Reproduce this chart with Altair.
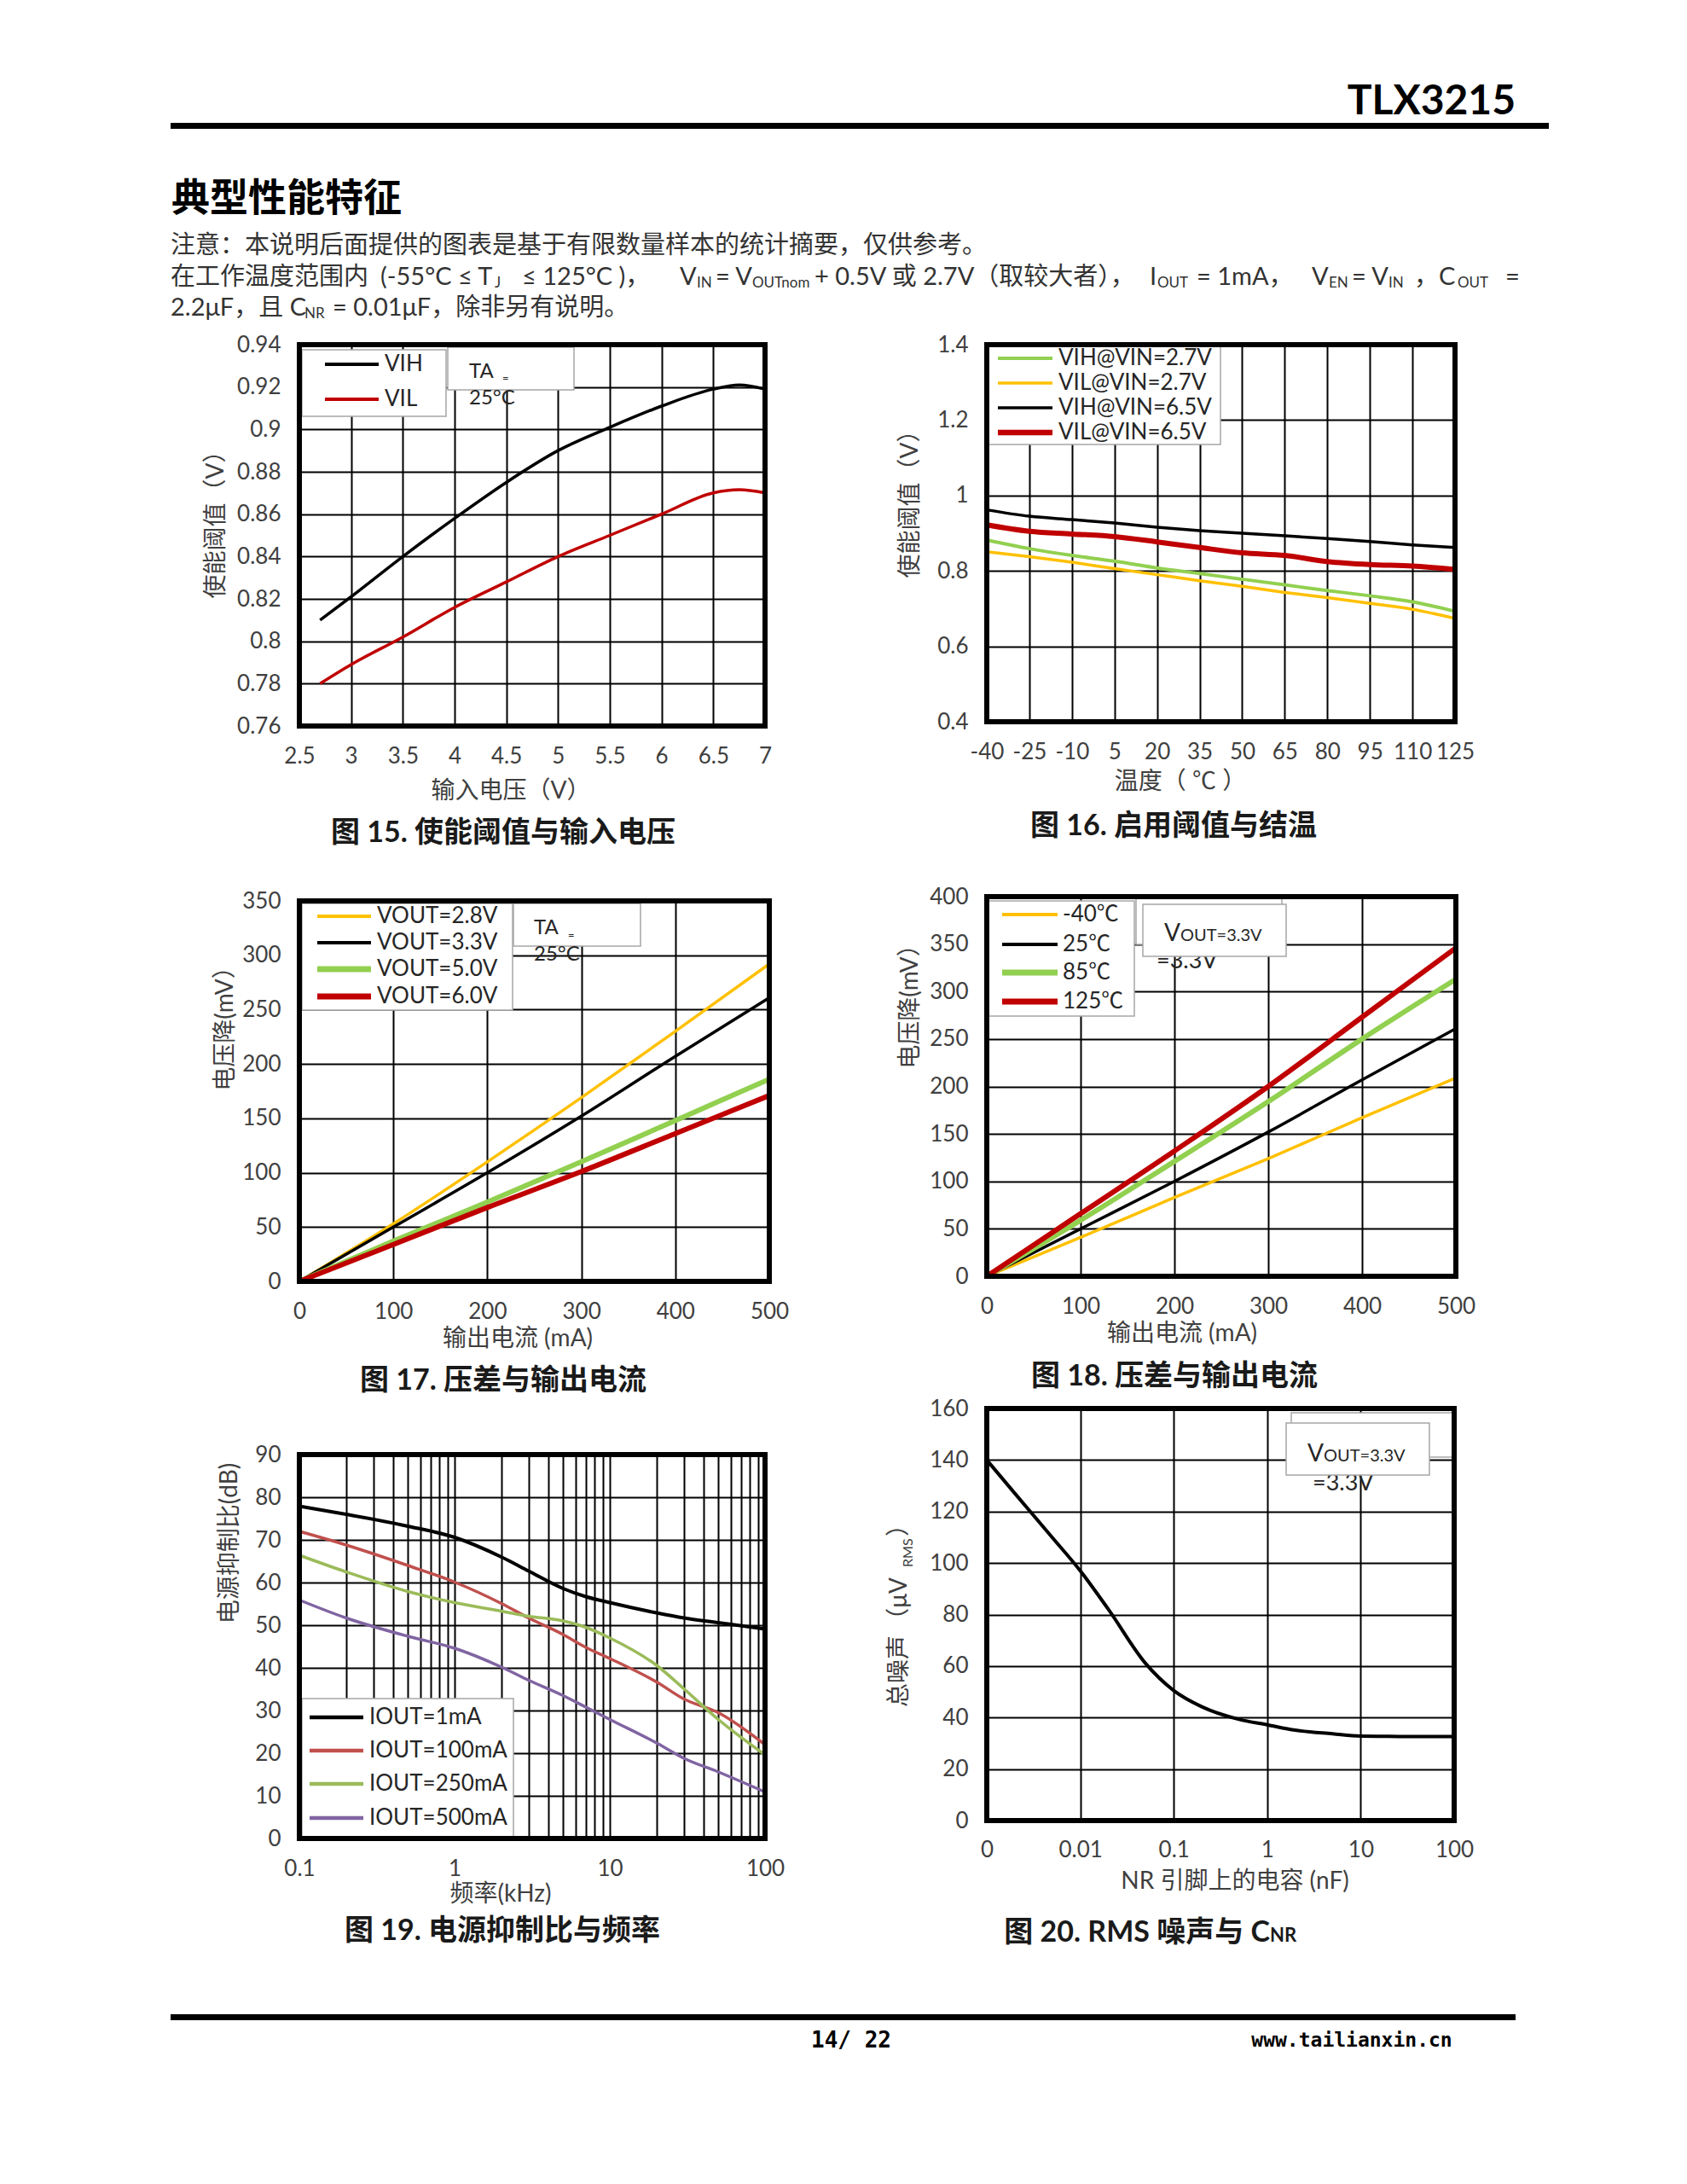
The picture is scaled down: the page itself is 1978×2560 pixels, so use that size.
import altair as alt
import pandas as pd

FONT = "Lato, 'Noto Sans CJK SC', sans-serif"
MONO = "'DejaVu Sans Mono', 'Liberation Mono', monospace"
LBL = "'' + datum.value"

# ================= DATA =================
# Fig 15
f15_vin = [2.7, 3.0, 3.5, 4.0, 4.5, 5.0, 5.5, 6.0, 6.5, 6.75, 7.0]
f15_vih = [0.810, 0.821, 0.840, 0.858, 0.875, 0.890, 0.901, 0.911, 0.919, 0.921, 0.919]
f15_vil = [0.780, 0.789, 0.802, 0.816, 0.828, 0.840, 0.850, 0.860, 0.870, 0.8715, 0.870]
f15_names = ["VIH", "VIL"]
f15_xticks = [2.5, 3, 3.5, 4, 4.5, 5, 5.5, 6, 6.5, 7]
f15_yticks = [0.76, 0.78, 0.8, 0.82, 0.84, 0.86, 0.88, 0.9, 0.92, 0.94]

# Fig 16
f16_temp = [-40, -25, -10, 5, 20, 35, 50, 65, 80, 95, 110, 125]
f16_vih27 = [0.882, 0.859, 0.841, 0.826, 0.808, 0.793, 0.778, 0.763, 0.748, 0.734, 0.718, 0.693]
f16_vil27 = [0.851, 0.838, 0.823, 0.806, 0.790, 0.774, 0.759, 0.743, 0.729, 0.714, 0.698, 0.674]
f16_vih65 = [0.962, 0.945, 0.936, 0.927, 0.916, 0.907, 0.900, 0.893, 0.886, 0.878, 0.869, 0.862]
f16_vil65 = [0.922, 0.905, 0.898, 0.891, 0.877, 0.862, 0.848, 0.841, 0.825, 0.817, 0.813, 0.804]
f16_names = ["VIH@VIN=2.7V", "VIL@VIN=2.7V", "VIH@VIN=6.5V", "VIL@VIN=6.5V"]
f16_xticks = [-40, -25, -10, 5, 20, 35, 50, 65, 80, 95, 110, 125]
f16_yticks = [0.4, 0.6, 0.8, 1, 1.2, 1.4]

# Fig 17
f17_iout = [0, 100, 200, 300, 400, 500]
f17_v28 = [0, 53, 110, 169, 230, 292]
f17_v33 = [0, 50, 100, 152, 207, 261]
f17_v50 = [0, 37, 73, 110, 148, 186]
f17_v60 = [0, 34, 68, 101, 136, 171]
f17_names = ["VOUT=2.8V", "VOUT=3.3V", "VOUT=5.0V", "VOUT=6.0V"]
f17_xticks = [0, 100, 200, 300, 400, 500]
f17_yticks = [0, 50, 100, 150, 200, 250, 300, 350]

# Fig 18
f18_iout = [0, 100, 200, 300, 400, 500]
f18_m40 = [0, 41, 83, 124, 167, 209]
f18_t25 = [0, 50, 100, 152, 207, 261]
f18_t85 = [0, 59, 121, 184, 250, 313]
f18_t125 = [0, 66, 132, 200, 273, 346]
f18_names = ["-40℃", "25℃", "85℃", "125℃"]
f18_yticks = [0, 50, 100, 150, 200, 250, 300, 350, 400]

# Fig 19
f19_freq = [0.1, 0.2, 0.5, 1, 2, 3, 5, 7, 10, 20, 30, 50, 100]
f19_1ma = [77.9, 76.0, 73.2, 70.6, 66.0, 62.7, 58.6, 56.7, 55.3, 52.9, 51.7, 50.6, 49.1]
f19_100ma = [72.0, 68.8, 64.0, 60.1, 55.1, 51.7, 47.8, 44.8, 42.2, 36.7, 32.7, 29.5, 22.0]
f19_250ma = [66.4, 62.5, 57.9, 55.3, 53.3, 52.1, 51.0, 49.5, 47.0, 40.6, 35.1, 27.9, 19.6]
f19_500ma = [55.9, 51.7, 47.4, 44.6, 40.2, 37.1, 33.5, 30.8, 27.9, 22.4, 18.8, 15.6, 10.9]
f19_names = ["IOUT=1mA", "IOUT=100mA", "IOUT=250mA", "IOUT=500mA"]
f19_xticks = [0.1, 0.2, 0.3, 0.4, 0.5, 0.6, 0.7, 0.8, 0.9, 1, 2, 3, 4, 5, 6, 7, 8, 9,
              10, 20, 30, 40, 50, 60, 70, 80, 90, 100]
f19_yticks = [0, 10, 20, 30, 40, 50, 60, 70, 80, 90]

# Fig 20
f20_cnr = [0.001, 0.002, 0.005, 0.01, 0.02, 0.05, 0.1, 0.2, 0.5, 1, 2, 5, 10, 20, 50, 100]
f20_noise = [140, 127, 110, 97, 82, 61, 50.5, 44.2, 39.3, 37.2, 35.1, 33.7, 32.8, 32.7, 32.6, 32.6]
f20_xticks = [0.001, 0.01, 0.1, 1, 10, 100]
f20_yticks = [0, 20, 40, 60, 80, 100, 120, 140, 160]

NOTE1 = "注意：本说明后面提供的图表是基于有限数量样本的统计摘要，仅供参考。"
NOTE2 = [("在工作温度范围内", 0, False), ("(-55°C ≤ T", 246, False), ("J", 380, True),
         ("≤ 125°C )，", 412, False), ("V", 597, False), ("IN", 617, True), ("= V", 639, False),
         ("OUTnom", 682, True), ("+ 0.5V 或 2.7V（取较大者），", 755, False), ("I", 1148, False),
         ("OUT", 1157, True), ("= 1mA，", 1203, False), ("V", 1338, False), ("EN", 1358, True),
         ("= V", 1385, False), ("IN", 1428, True), ("，C", 1458, False), ("OUT", 1509, True),
         ("=", 1565, False)]
NOTE3 = [("2.2μF，且 C", 0, False), ("NR", 157, True), ("= 0.01μF，除非另有说明。", 190, False)]

# ================= HELPERS =================
ONE = alt.Data(values=[{"k": 1}])
TXT = "#262626"


def txt(text, x, y, size=26, align="center", baseline="middle", weight="normal",
        color="#404040", angle=None, font=FONT):
    mk = dict(align=align, baseline=baseline, fontSize=size, fontWeight=weight,
              color=color, font=font)
    if angle is not None:
        mk["angle"] = angle
    return alt.Chart(ONE).mark_text(**mk).encode(
        x=alt.value(x), y=alt.value(y), text=alt.value(text))


def rect(x1, y1, x2, y2, fill="white", stroke="#a6a6a6", sw=1.5):
    return alt.Chart(ONE).mark_rect(fill=fill, stroke=stroke, strokeWidth=sw).encode(
        x=alt.value(x1), x2=alt.value(x2), y=alt.value(y1), y2=alt.value(y2))


def bar(x1, y1, x2, y2, color="black"):
    return alt.Chart(ONE).mark_rect(fill=color, strokeWidth=0).encode(
        x=alt.value(x1), x2=alt.value(x2), y=alt.value(y1), y2=alt.value(y2))


def hseg(x1, x2, y, color, w):
    return alt.Chart(ONE).mark_rule(color=color, strokeWidth=w).encode(
        x=alt.value(x1), x2=alt.value(x2), y=alt.value(y))


def anchors(x1, y1, x2, y2):
    return [bar(x1, y1, x1 + 1, y1 + 1, "white"), bar(x2 - 1, y2 - 1, x2, y2, "white")]


def frame(w, h):
    return alt.Chart(ONE).mark_rect(fillOpacity=0, stroke="black", strokeWidth=6).encode(
        x=alt.value(0), x2=alt.value(w), y=alt.value(0), y2=alt.value(h))


def make_axis(values, pad=22, expr=LBL):
    return alt.Axis(values=values, labelExpr=expr, grid=True, gridColor="black",
                    gridWidth=2, gridOpacity=1, ticks=False, tickSize=0, domain=False,
                    labelFont="Lato", labelFontSize=26, labelColor="#404040",
                    labelPadding=pad, labelFlush=False, labelOverlap=False, title=None)


def series(xs, ys, color, width, xsc, ysc, xax, yax, interp="monotone"):
    df = pd.DataFrame({"x": xs, "y": ys})
    return alt.Chart(df).mark_line(color=color, strokeWidth=width, interpolate=interp).encode(
        x=alt.X("x:Q", scale=xsc, axis=xax), y=alt.Y("y:Q", scale=ysc, axis=yax))


def legend(box, rows, x1, x2, tx, names, colors, widths, size=26):
    out = [rect(*box)]
    for y, n, c, w in zip(rows, names, colors, widths):
        out.append(hseg(x1, x2, y, c, w))
        out.append(txt(n, tx, y, size, align="left", color=TXT))
    return out


def caption(text, x, y):
    return txt(text, x, y, 34, weight="bold", color="#1a1a1a")


BLACK, RED, ORANGE, GREEN = "black", "#c00000", "#ffc000", "#92d050"
TS = 28  # axis title size

# ================= FIG 15 =================
W, H = 546, 447
xs = alt.Scale(domain=[2.5, 7], nice=False, zero=False)
ys = alt.Scale(domain=[0.76, 0.94], nice=False, zero=False)
xa, ya = make_axis(f15_xticks), make_axis(f15_yticks)
L = anchors(-151, -20, 657, 630)
L += [series(f15_vin, f15_vih, BLACK, 3.5, xs, ys, xa, ya),
      series(f15_vin, f15_vil, RED, 3.5, xs, ys, xa, ya)]
L += legend((3, 6, 172, 84), [23, 64], 30, 93, 100, f15_names, [BLACK, RED], [4, 4])
L += [rect(174, 3, 322, 53), txt("TA", 199, 32, 24, "left", color=TXT),
      txt("=", 238, 40, 13, "left", color=TXT),
      txt("25°C", 199, 63, 24, "left", color=TXT)]
L += [frame(W, H),
      txt("使能阈值（V）", -97, 204, TS, angle=270),
      txt("输入电压（V）", 248, 524, TS),
      caption("图 15. 使能阈值与输入电压", 239, 573)]
c1 = alt.layer(*L).properties(width=W, height=H)

# ================= FIG 16 =================
W, H = 549, 442
xs = alt.Scale(domain=[-40, 125], nice=False, zero=False)
ys = alt.Scale(domain=[0.4, 1.4], nice=False, zero=False)
xa, ya = make_axis(f16_xticks), make_axis(f16_yticks)
L = anchors(-149, -26, 659, 624)
L += [series(f16_temp, f16_vih27, GREEN, 4, xs, ys, xa, ya),
      series(f16_temp, f16_vil27, ORANGE, 3.5, xs, ys, xa, ya),
      series(f16_temp, f16_vih65, BLACK, 3.5, xs, ys, xa, ya),
      series(f16_temp, f16_vil65, RED, 6, xs, ys, xa, ya)]
L += legend((2, 2, 274, 117), [16, 45, 74, 103], 13, 77, 84, f16_names,
            [GREEN, ORANGE, BLACK, RED], [4, 3.5, 3.5, 6.5])
L += [frame(W, H),
      txt("使能阈值（V）", -89, 180, TS, angle=270),
      txt("温度（ ℃ ）", 227, 513, TS),
      caption("图 16. 启用阈值与结温", 219, 565)]
c2 = alt.layer(*L).properties(width=W, height=H)

# ================= FIG 17 =================
W, H = 551, 446
xs = alt.Scale(domain=[0, 500], nice=False)
ys = alt.Scale(domain=[0, 350], nice=False)
xa, ya = make_axis(f17_xticks), make_axis(f17_yticks)
L = anchors(-151, -22, 657, 628)
L += [series(f17_iout, f17_v28, ORANGE, 3.5, xs, ys, xa, ya),
      series(f17_iout, f17_v33, BLACK, 3.5, xs, ys, xa, ya),
      series(f17_iout, f17_v50, GREEN, 6, xs, ys, xa, ya),
      series(f17_iout, f17_v60, RED, 6, xs, ys, xa, ya)]
L += legend((3, 3, 250, 128), [18, 49, 80, 112], 21, 84, 91, f17_names,
            [ORANGE, BLACK, GREEN, RED], [4, 4, 7, 7])
L += [rect(251, 3, 400, 53), txt("TA", 275, 32, 24, "left", color=TXT),
      txt("=", 315, 41, 13, "left", color=TXT),
      txt("25°C", 275, 63, 24, "left", color=TXT)]
L += [frame(W, H),
      txt("电压降(mV）", -86, 143, TS, angle=270),
      txt("输出电流 (mA)", 256, 514, TS),
      caption("图 17. 压差与输出电流", 239, 563)]
c3 = alt.layer(*L).properties(width=W, height=H)

# ================= FIG 18 =================
W, H = 550, 445
xs = alt.Scale(domain=[0, 500], nice=False)
ys = alt.Scale(domain=[0, 400], nice=False)
xa, ya = make_axis(f17_xticks), make_axis(f18_yticks)
L = anchors(-149, -23, 659, 585)
L += [series(f18_iout, f18_m40, ORANGE, 3.5, xs, ys, xa, ya),
      series(f18_iout, f18_t25, BLACK, 3.5, xs, ys, xa, ya),
      series(f18_iout, f18_t85, GREEN, 6, xs, ys, xa, ya),
      series(f18_iout, f18_t125, RED, 6, xs, ys, xa, ya)]
L += legend((2, 5, 173, 140), [21, 56, 89, 123], 18, 83, 89, f18_names,
            [ORANGE, BLACK, GREEN, RED], [4, 4, 7, 7])
L += [rect(175, 2, 346, 56), txt("=3.3V", 199, 76, 27, "left", color=TXT),
      rect(183, 9, 351, 70),
      txt("V", 227, 52, 28, "right", "alphabetic", color=TXT),
      txt("OUT=3.3V", 227, 52, 20, "left", "alphabetic", color=TXT)]
L += [frame(W, H),
      txt("电压降(mV）", -89, 122, TS, angle=270),
      txt("输出电流 (mA)", 229, 513, TS),
      caption("图 18. 压差与输出电流", 220, 563)]
c4 = alt.layer(*L).properties(width=W, height=H)

# ================= FIG 19 =================
W, H = 546, 450
xs = alt.Scale(type="log", domain=[0.1, 100], nice=False)
ys = alt.Scale(domain=[0, 90], nice=False)
xa = make_axis(f19_xticks, expr="indexof([0.1, 1, 10, 100], datum.value) >= 0 ? '' + datum.value : ''")
ya = make_axis(f19_yticks)
L = anchors(-151, -21, 657, 629)
L += [series(f19_freq, f19_1ma, BLACK, 4, xs, ys, xa, ya),
      series(f19_freq, f19_100ma, "#c0504d", 3.5, xs, ys, xa, ya),
      series(f19_freq, f19_250ma, "#9bbb59", 3.5, xs, ys, xa, ya),
      series(f19_freq, f19_500ma, "#8064a2", 3.5, xs, ys, xa, ya)]
L += legend((3, 286, 251, 450), [308, 347, 386, 426], 12, 75, 82, f19_names,
            [BLACK, "#c0504d", "#9bbb59", "#8064a2"], [4.5, 4.5, 4.5, 4.5])
L += [frame(W, H),
      txt("电源抑制比(dB)", -81, 104, TS, angle=270),
      txt("频率(kHz)", 236, 516, TS),
      caption("图 19. 电源抑制比与频率", 238, 559)]
c5 = alt.layer(*L).properties(width=W, height=H)

# ================= FIG 20 =================
W, H = 548, 483
xs = alt.Scale(type="log", domain=[0.001, 100], nice=False)
ys = alt.Scale(domain=[0, 160], nice=False)
xa = make_axis(f20_xticks, pad=21, expr="datum.value < 0.005 ? '0' : '' + datum.value")
ya = make_axis(f20_yticks)
L = anchors(-149, -15, 659, 677)
L += [series(f20_cnr, f20_noise, BLACK, 4, xs, ys, xa, ya)]
L += [rect(357, 5, 546, 57), txt("=3.3V", 382, 88, 27, "left", color=TXT),
      rect(351, 17, 519, 78),
      txt("V", 395, 62, 28, "right", "alphabetic", color=TXT),
      txt("OUT=3.3V", 395, 62, 20, "left", "alphabetic", color=TXT)]
L += [frame(W, H),
      txt("总噪声", -102, 350, TS, align="left", angle=270),
      txt("（μV", -102, 198, TS, align="right", angle=270),
      txt("RMS", -92, 186, 16, align="left", angle=270),
      txt("）", -102, 150, TS, align="left", angle=270),
      txt("NR 引脚上的电容 (nF)", 291, 555, TS),
      txt("图 20. RMS 噪声与 C", 332, 625, 34, "right", "alphabetic", weight="bold", color="#1a1a1a"),
      txt("NR", 332, 625, 22, "left", "alphabetic", weight="bold", color="#1a1a1a")]
c6 = alt.layer(*L).properties(width=W, height=H)

# ================= HEADER / FOOTER =================
X0 = -151  # header/footer left edge relative to the first plot's left edge
Hl = anchors(X0, 0, X0 + 1616, 290)
Hl += [txt("TLX3215", X0 + 1577, 32, 48, "right", weight="bold", color="black"),
       bar(X0, 56, X0 + 1616, 63),
       txt("典型性能特征", X0 + 1, 146, 45, "left", weight="bold", color="black"),
       txt(NOTE1, X0, 200, 29, "left", color="#333333")]
for t, x, sub in NOTE2:
    Hl.append(txt(t, X0 + x, 237 + (7 if sub else 0), 17 if sub else 29, "left", color="#333333"))
for t, x, sub in NOTE3:
    Hl.append(txt(t, X0 + x, 273 + (7 if sub else 0), 17 if sub else 29, "left", color="#333333"))
header = alt.layer(*Hl).properties(width=1465, height=290)

Fl = anchors(X0, 0, X0 + 1616, 90)
Fl += [bar(X0, 27, X0 + 1577, 34),
       txt("14/ 22", X0 + 798, 58, 26, weight="bold", font=MONO, color="black"),
       txt("www.tailianxin.cn", X0 + 1385, 58, 23, weight="bold", font=MONO, color="black")]
footer = alt.layer(*Fl).properties(width=1465, height=90)

left = alt.vconcat(c1, c3, c5, spacing=0)
right = alt.vconcat(c2, c4, c6, spacing=0)
body = alt.hconcat(left, right, spacing=0)
chart = alt.vconcat(header, body, footer, spacing=0).properties(
    padding={"left": 192, "top": 80, "right": 10, "bottom": 10}
).configure_view(strokeWidth=0, stroke="transparent")

chart.save("out.html", embed_options={"renderer": "svg", "actions": False})
